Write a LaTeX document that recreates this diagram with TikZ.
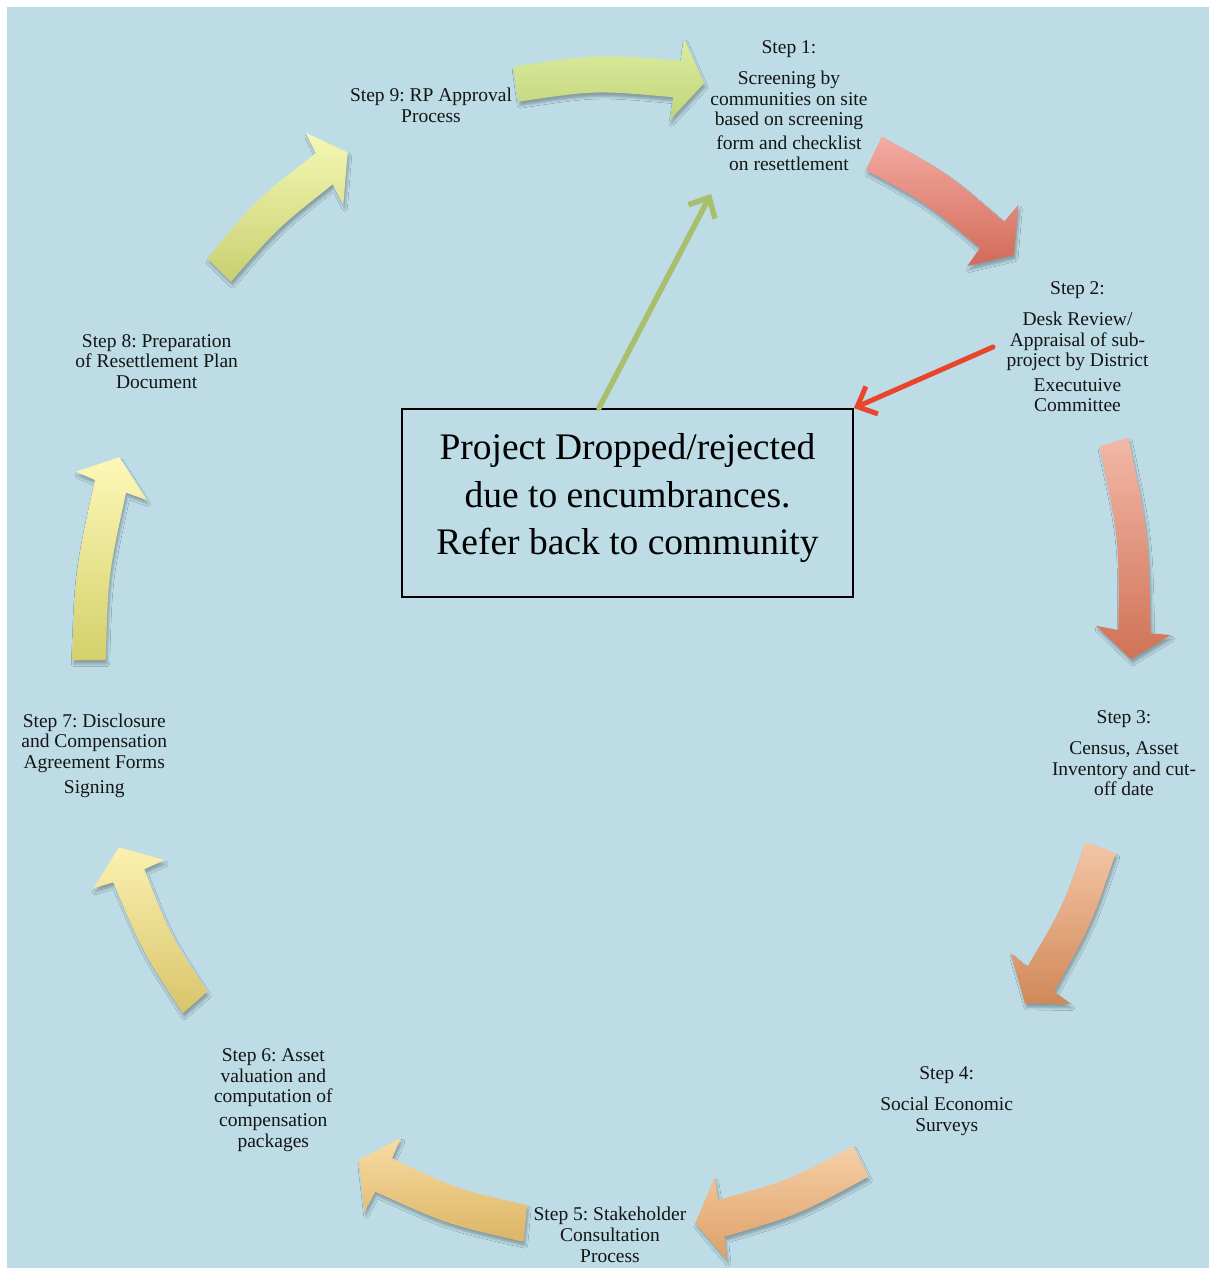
\documentclass[tikz,border=0pt]{standalone}
\usepackage{fontspec}
\setmainfont{Liberation Serif}
\frenchspacing
\usetikzlibrary{arrows.meta,calc,shadows.blur}
\definecolor{bg}{HTML}{BDDCE6}
\definecolor{txt}{HTML}{151515}
\definecolor{aT}{HTML}{F4F8B4}\definecolor{aB}{HTML}{C8D070}
\definecolor{bT}{HTML}{DCEDA0}\definecolor{bB}{HTML}{C2D47A}
\definecolor{cT}{HTML}{F3ABA2}\definecolor{cB}{HTML}{D26A58}
\definecolor{dT}{HTML}{F2B8A8}\definecolor{dB}{HTML}{D07255}
\definecolor{eT}{HTML}{F4C6A6}\definecolor{eB}{HTML}{D08858}
\definecolor{fT}{HTML}{F6CFA6}\definecolor{fB}{HTML}{DDA068}
\definecolor{gT}{HTML}{F8DCA3}\definecolor{gB}{HTML}{DCB565}
\definecolor{hT}{HTML}{FBF0B0}\definecolor{hB}{HTML}{D8C46A}
\definecolor{iT}{HTML}{FDF8B8}\definecolor{iB}{HTML}{D4D06A}
\definecolor{connG}{HTML}{A8BF6E}
\definecolor{connR}{HTML}{E8452C}
\newcommand\stepstrut{\rule{0pt}{15pt}}
\newcommand\boxstrut{\rule{0pt}{30pt}}
\tikzset{
  stepbox/.style={align=center, inner sep=0pt, anchor=north, text=txt,
    font=\fontsize{19.5}{20.5}\selectfont},
  flowarrow/.style={blur shadow={shadow xshift=1.5pt, shadow yshift=-4pt,
    shadow blur radius=2.5pt, shadow opacity=28}},
  conn/.style={line width=5.5pt, line cap=round,
    -{Straight Barb[length=16pt,width=30pt]}}
}
\begin{document}
\begin{tikzpicture}[x=1pt,y=-1pt]
\useasboundingbox (0,0) rectangle (1209,1268);
\fill[white] (0,0) rectangle (1209,1268);
\fill[bg] (7,7) rectangle (1209,1268);

% curved cycle arrows
% A: step 8 -> step 9
\shade[flowarrow, top color=aT, bottom color=aB]
  (207.3,258.3) .. controls (255.9,199.7) .. (315.7,153.3) -- (305.7,132.7) -- (347.7,152.3)
  -- (343.3,205) -- (332.7,184.3) .. controls (277.4,228.2) .. (231,281.7) -- cycle;
% B: step 9 -> step 1
\shade[flowarrow, top color=bT, bottom color=bB]
  (513.3,66.7) .. controls (597,54) .. (681,60.7) -- (684,38.3) -- (704,83.3)
  -- (670,120) -- (673.3,97.3) .. controls (595.5,90.2) .. (518.3,101.7) -- cycle;
% C: step 1 -> step 2
\shade[flowarrow, top color=cT, bottom color=cB]
  (881.7,136.7) .. controls (947.6,172.9) .. (1004,221.7) -- (1018.3,205) -- (1014,255)
  -- (967.3,266) -- (980,248) .. controls (926.8,203.5) .. (866,170) -- cycle;
% D: step 2 -> step 3
\shade[flowarrow, top color=dT, bottom color=dB]
  (1128.3,437.3) .. controls (1148.7,533.9) .. (1150.7,633.3) -- (1170.7,635) -- (1131,659.3)
  -- (1096,625.7) -- (1118.3,630) .. controls (1119.1,537.4) .. (1099.3,446.7) -- cycle;
% E: step 3 -> step 4
\shade[flowarrow, top color=eT, bottom color=eB]
  (1115.7,853.3) .. controls (1091.1,925.2) .. (1054,991.7) -- (1070.7,1004) -- (1025,1003.3)
  -- (1010.7,953.3) -- (1027.3,966.7) .. controls (1062.6,907.4) .. (1085.7,841.7) -- cycle;
% F: step 4 -> step 5
\shade[flowarrow, top color=fT, bottom color=fB]
  (868.3,1176.7) .. controls (799.4,1214.4) .. (724.5,1236.7) -- (727,1260) -- (695.4,1223.3)
  -- (714.7,1177.3) -- (718.2,1200) .. controls (788.6,1180.4) .. (853.2,1146) -- cycle;
% G: step 5 -> step 6
\shade[flowarrow, top color=gT, bottom color=gB]
  (523.6,1241.7) .. controls (447,1224.3) .. (375.3,1191.7) -- (364.7,1211.7) -- (358.8,1160)
  -- (400.9,1137.7) -- (392.1,1158.3) .. controls (457,1189.3) .. (527.1,1205) -- cycle;
% H: step 6 -> step 7
\shade[flowarrow, top color=hT, bottom color=hB]
  (182.7,1013.3) .. controls (142.1,950.6) .. (113.3,882.3) -- (93.3,888.3) -- (119,847.3)
  -- (164.3,860) -- (144.3,869.3) .. controls (169.5,933.6) .. (207.3,991.7) -- cycle;
% I: step 7 -> step 8
\shade[flowarrow, top color=iT, bottom color=iB]
  (72.3,660) .. controls (75.6,569) .. (95,480) -- (76,471.7) -- (119.3,457.3)
  -- (146.7,500) -- (126,492.7) .. controls (108.1,575.5) .. (105.7,660) -- cycle;

% step labels
\node[stepbox] (s1) at (789,38.8) {\stepstrut Step 1:\\[10.5pt] Screening by\\ communities on site\\ based on screening\\[3.5pt] form and checklist\\ on resettlement};
\node[stepbox] (s2) at (1077.5,278.8) {\stepstrut Step 2:\\[10.5pt] Desk Review/\\[1pt] Appraisal of sub-\\[-0.5pt] project by District\\[4.5pt] Executuive\\[-1pt] Committee};
\node[stepbox] (s3) at (1124,708.2) {\stepstrut Step 3:\\[11pt] Census, Asset\\ Inventory and cut-\\ off date};
\node[stepbox] (s4) at (946.7,1064.5) {\stepstrut Step 4:\\[10.5pt] Social Economic\\ Surveys};
\node[stepbox] (s5) at (610,1205.5) {\stepstrut Step 5: Stakeholder\\ Consultation\\[1pt] Process};
\node[stepbox] (s6) at (273.3,1046.5) {\stepstrut Step 6: Asset\\ valuation and\\ computation of\\[3.5pt] compensation\\ packages};
\node[stepbox] (s7) at (94.3,712.2) {\stepstrut Step 7: Disclosure\\ and Compensation\\ Agreement Forms\\[4.5pt] Signing};
\node[stepbox] (s8) at (156.7,332.2) {\stepstrut Step 8: Preparation\\ of Resettlement Plan\\ Document};
\node[stepbox] (s9) at (431,86.5) {\stepstrut Step 9: RP Approval\\ Process};

% central box
\node[draw=black, line width=1.8pt, minimum width=451pt, minimum height=188pt, inner sep=0pt] (box) at (627.5,503) {};
\node[align=center, inner sep=0pt, anchor=north, font=\fontsize{37.5}{47.5}\selectfont] (boxtext) at (627.5,429.5)
  {\boxstrut Project Dropped/rejected\\ due to encumbrances.\\ Refer back to community};

% connectors
\coordinate (gStart) at ($(box.north west)!0.4368!(box.north east)$);
\coordinate (gEnd) at (711,194);
\coordinate (rStart) at (993,347);
\draw[conn, draw=connG] (gStart) -- (gEnd);
\draw[conn, draw=connR, line width=5pt] (rStart) -- (box.north east);
\end{tikzpicture}
\end{document}
